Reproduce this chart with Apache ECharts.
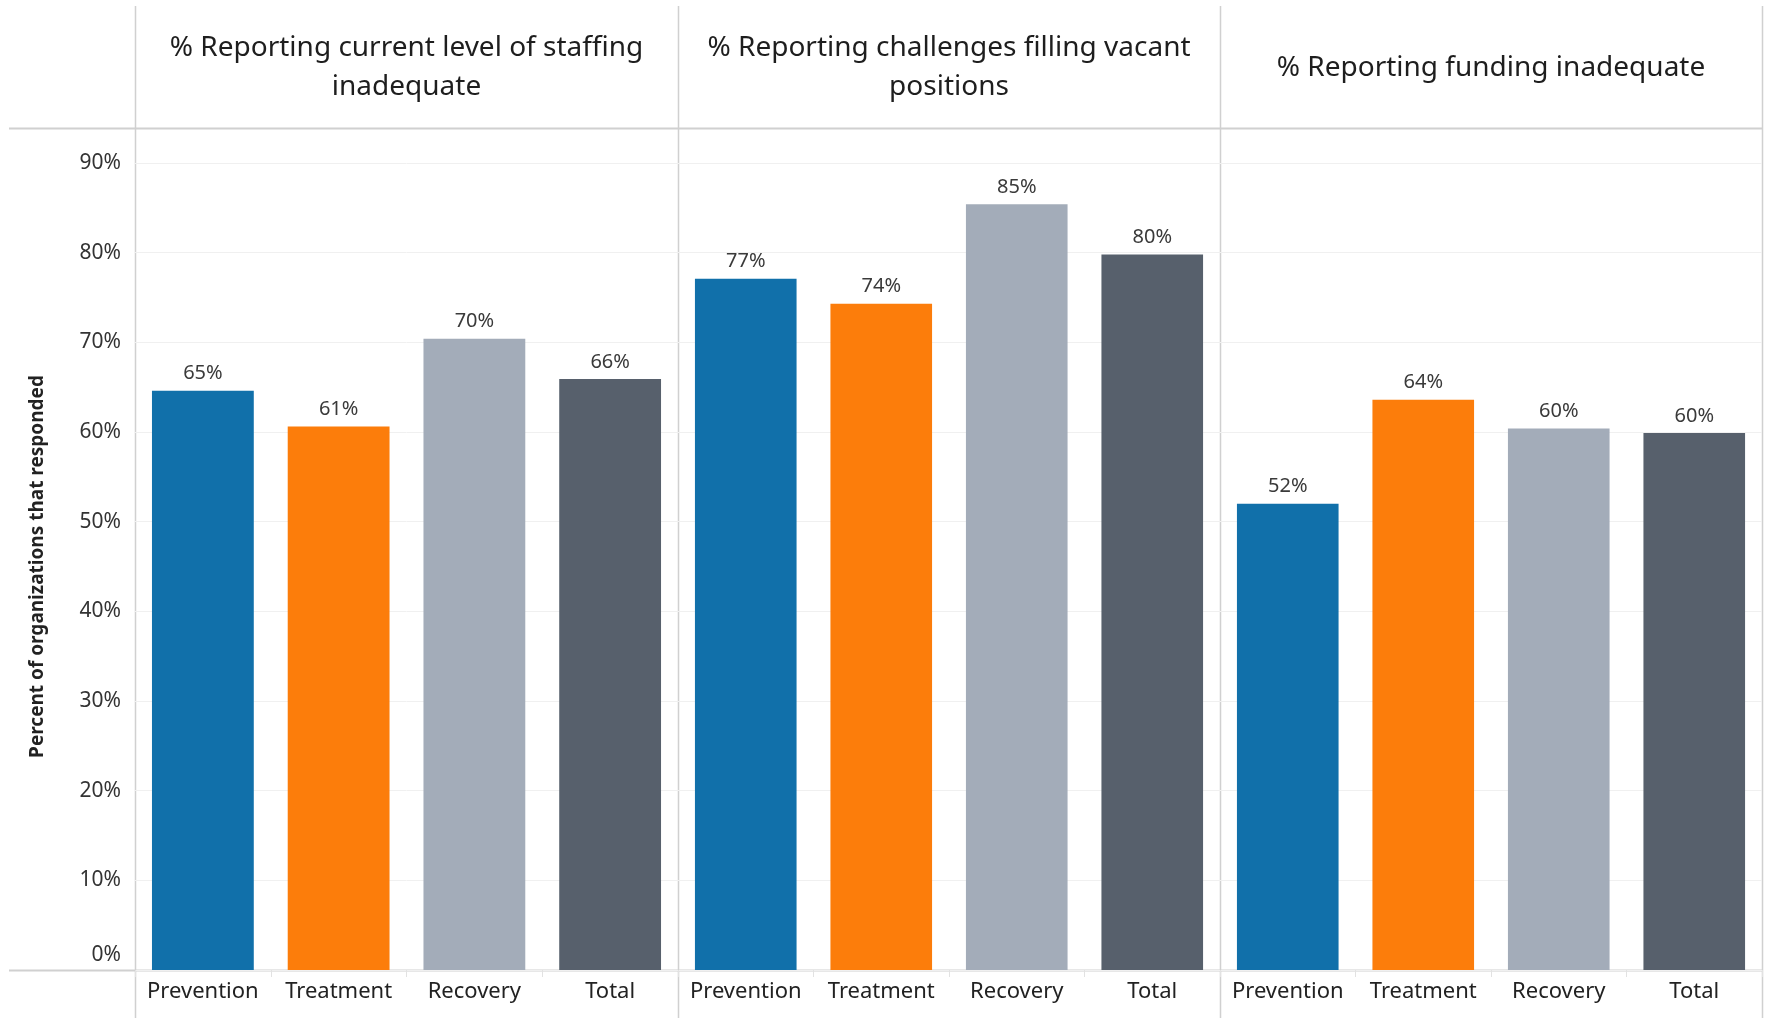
<!DOCTYPE html>
<html><head><meta charset="utf-8">
<script src="https://cdn.jsdelivr.net/npm/echarts@6/dist/echarts.min.js"></script>
<style>html,body{margin:0;padding:0;background:#fff}#c{width:1765px;height:1018px}</style>
</head><body><div id="c"></div>
<script>
const categories = ['Prevention','Treatment','Recovery','Total'];
const panelTitles = ['% Reporting current level of staffing\ninadequate','% Reporting challenges filling vacant\npositions','% Reporting funding inadequate'];
const staffingInadequate = [64.6, 60.6, 70.4, 65.9];
const vacantChallenges = [77.1, 74.3, 85.4, 79.8];
const fundingInadequate = [52.0, 63.6, 60.4, 59.9];
const colors = ['#1170aa','#fc7d0b','#a3acb9','#57606c'];
const yTicks = [0,10,20,30,40,50,60,70,80,90];
const yTitle = 'Percent of organizations that responded';

const FONT = 'Noto Sans';
const panelsData = [staffingInadequate, vacantChallenges, fundingInadequate];
const panelX = [135, 678, 1220, 1762];
const gridTop = 163, gridBottom = 1018 - 970;
const grids = [], xAxes = [], yAxes = [], series = [], graphics = [];
panelsData.forEach((vals, i) => {
  grids.push({left: panelX[i], width: panelX[i+1]-panelX[i], top: gridTop, bottom: gridBottom, containLabel: false});
  xAxes.push({type:'category', gridIndex:i, data:categories,
    axisLine:{show:false}, axisTick:{show:true, interval:0, length:7, lineStyle:{color:'#e2e2e2'}},
    axisLabel:{interval:0, hideOverlap:false, color:'#222', fontFamily:FONT, fontSize:22, margin:11}});
  yAxes.push({type:'value', gridIndex:i, min:yTicks[0], max:yTicks[yTicks.length-1], interval:10,
    splitLine:{show:true, lineStyle:{color:'#f0f0f0', width:1}},
    axisLine:{show:false}, axisTick:{show:false},
    axisLabel:{show:i===0, color:'#333', fontFamily:FONT, fontSize:21, margin:14,
      formatter: v => v===0 ? '{z|0%}' : v+'%',
      rich:{z:{fontFamily:FONT, fontSize:21, color:'#333', padding:[0,0,30,0]}}},
    name: i===0 ? yTitle : '', nameLocation:'middle', nameRotate:90, nameGap:88,
    nameTextStyle:{fontFamily:FONT, fontSize:19, fontWeight:'bold', color:'#222'}});
  series.push({type:'bar', xAxisIndex:i, yAxisIndex:i, barWidth:'75%',
    data: vals.map((v,k)=>({value:v, itemStyle:{color:colors[k]}})),
    label:{show:true, position:'top', distance:7, color:'#3a3a3a', fontFamily:FONT, fontSize:20,
      formatter: p => Math.round(p.value)+'%'}});
  graphics.push({type:'text', style:{text:panelTitles[i], x:(panelX[i]+panelX[i+1])/2, y:68,
    textAlign:'center', textVerticalAlign:'middle', font:'28px "'+FONT+'"', fill:'#1e1e1e', lineHeight:39}});
});
const lc = '#d0d0d0';
panelX.forEach(x => graphics.push({type:'line', shape:{x1:x+0.5,y1:6,x2:x+0.5,y2:1018}, style:{stroke:lc, lineWidth:1.5}}));
graphics.push({type:'line', shape:{x1:9,y1:128.5,x2:1762,y2:128.5}, style:{stroke:lc, lineWidth:2}});
graphics.push({type:'line', shape:{x1:9,y1:970.5,x2:1762,y2:970.5}, style:{stroke:lc, lineWidth:2}});

const chart = echarts.init(document.getElementById('c'), null, {renderer:'canvas'});
chart.setOption({animation:false, grid:grids, xAxis:xAxes, yAxis:yAxes, series:series, graphic:graphics});
</script></body></html>
